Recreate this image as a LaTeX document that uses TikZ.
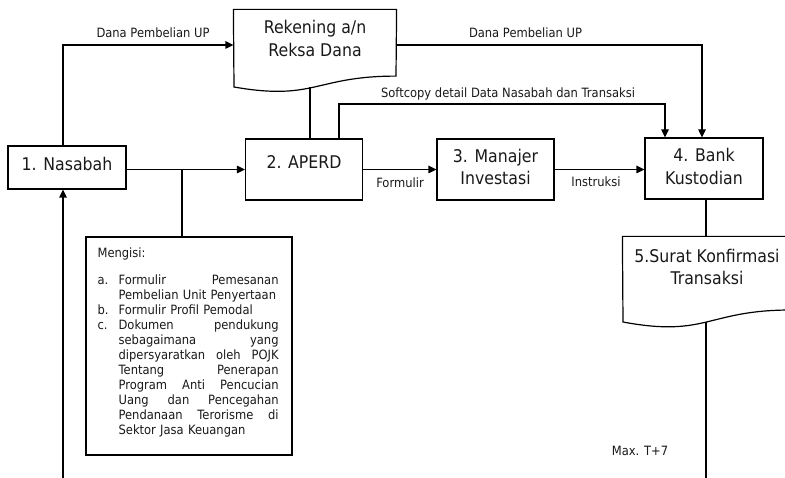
\documentclass[tikz,border=0pt]{standalone}
\usepackage{fontspec}
\setmainfont[FakeStretch=0.9]{DejaVu Sans}
\usetikzlibrary{arrows.meta}
\begin{document}
\begin{tikzpicture}[x=1pt,y=-1pt,line width=1.2pt,
  arr/.style={-{Triangle[length=8pt,width=7.5pt]}},
  boxnode/.style={draw,inner sep=0pt},
  anchorbox/.style={draw=none,inner sep=0pt},
  big/.style={font=\fontsize{17.5}{22.5}\selectfont,inner sep=0pt,align=center,text=black!90},
  small/.style={font=\fontsize{12.8}{15}\selectfont,inner sep=0pt,text=black!90}]
\useasboundingbox (0,0) rectangle (785,478);

% boxes
\node[boxnode,minimum width=118pt,minimum height=43pt] (nas) at (67,167.5) {};
\node[big] (nast) at (67,164) {1. Nasabah};
\node[boxnode,minimum width=117pt,minimum height=61pt] (aperd) at (304,169.5) {};
\node[big] (aperdt) at (304,162.5) {2. APERD};
\node[boxnode,minimum width=117pt,minimum height=61pt] (man) at (495.5,169.5) {};
\node[big] (mant) at (495.5,167) {3. Manajer\\Investasi};
\node[boxnode,minimum width=118pt,minimum height=61pt] (bank) at (704,168.5) {};
\node[big] (bankt) at (704,166.5) {4. Bank\\Kustodian};

% document shapes
\node[anchorbox,minimum width=162pt,minimum height=82.4pt] (rek) at (315,51.2) {};
\draw (rek.north west) -- (rek.north east) -- (396,76.1) .. controls (315,76.1) and (315,101.2) .. (234,87) -- cycle;
\node[big] (rekt) at (315,38.5) {Rekening a/n\\Reksa Dana};
\node[anchorbox,minimum width=168pt,minimum height=91pt] (sur) at (707,282.5) {};
\draw (sur.north west) -- (sur.north east) -- (791,310) .. controls (707,310) and (707,337.7) .. (623,322) -- cycle;
\node[big] (surt) at (707,267) {5.Surat Konfirmasi\\Transaksi};

% Mengisi box
\node[boxnode,minimum width=206pt,minimum height=218pt] (meng) at (189,346) {};
\node[small,anchor=north west,align=left,text width=185pt] (mengt) at (97,247.5) {%
Mengisi:\\[12pt]
\makebox[21pt][l]{a.}\makebox[160pt][s]{Formulir\hfill Pemesanan}\\
\hspace*{21pt}Pembelian Unit Penyertaan\\
\makebox[21pt][l]{b.}Formulir Profil Pemodal\\
\makebox[21pt][l]{c.}\makebox[160pt][s]{Dokumen\hfill pendukung}\\
\hspace*{21pt}\makebox[160pt][s]{sebagaimana\hfill yang}\\
\hspace*{21pt}\makebox[160pt][s]{dipersyaratkan\hfill oleh\hfill POJK}\\
\hspace*{21pt}\makebox[160pt][s]{Tentang\hfill Penerapan}\\
\hspace*{21pt}\makebox[160pt][s]{Program\hfill Anti\hfill Pencucian}\\
\hspace*{21pt}\makebox[160pt][s]{Uang\hfill dan\hfill Pencegahan}\\
\hspace*{21pt}\makebox[160pt][s]{Pendanaan\hfill Terorisme\hfill di}\\
\hspace*{21pt}Sektor Jasa Keuangan};

% helper coordinates
\coordinate (rekb) at (310,87);
\coordinate (surb) at (706,322);
\coordinate (br) at (182,169.5);
\coordinate (bot) at (63,478);
\coordinate (botr) at (706,478);

% connectors
\draw[arr] ([xshift=-4pt]nas.north) |- (rek.west |- 0,45);
\draw[arr] (rek.east |- 0,45) -| ([xshift=-2pt]bank.north);
\draw (rekb) -- (aperd.north -| rekb);
\draw[arr] (aperd.north -| 339,0) |- (665,104) -- (bank.north -| 665,0);
\draw[arr] (nas.east |- aperd.west) -- (aperd.west);
\draw (br) -- (br |- meng.north);
\draw[arr] (aperd.east) -- (man.west);
\draw[arr] (man.east) -- (man.east -| bank.west);
\draw (bank.south -| surb) -- (sur.north -| surb);
\draw (surb) -- (botr);
\draw[arr] (bot) -- ([xshift=-4pt]nas.south);

% labels
\node[small] (l1) at (153,33) {Dana Pembelian UP};
\node[small] (l2) at (525.5,33) {Dana Pembelian UP};
\node[small] (l3) at (508,94) {Softcopy detail Data Nasabah dan Transaksi};
\node[small] (l4) at (400,183) {Formulir};
\node[small] (l5) at (596,182) {Instruksi};
\node[small] (l6) at (640,451) {Max. T+7};
\end{tikzpicture}
\end{document}
